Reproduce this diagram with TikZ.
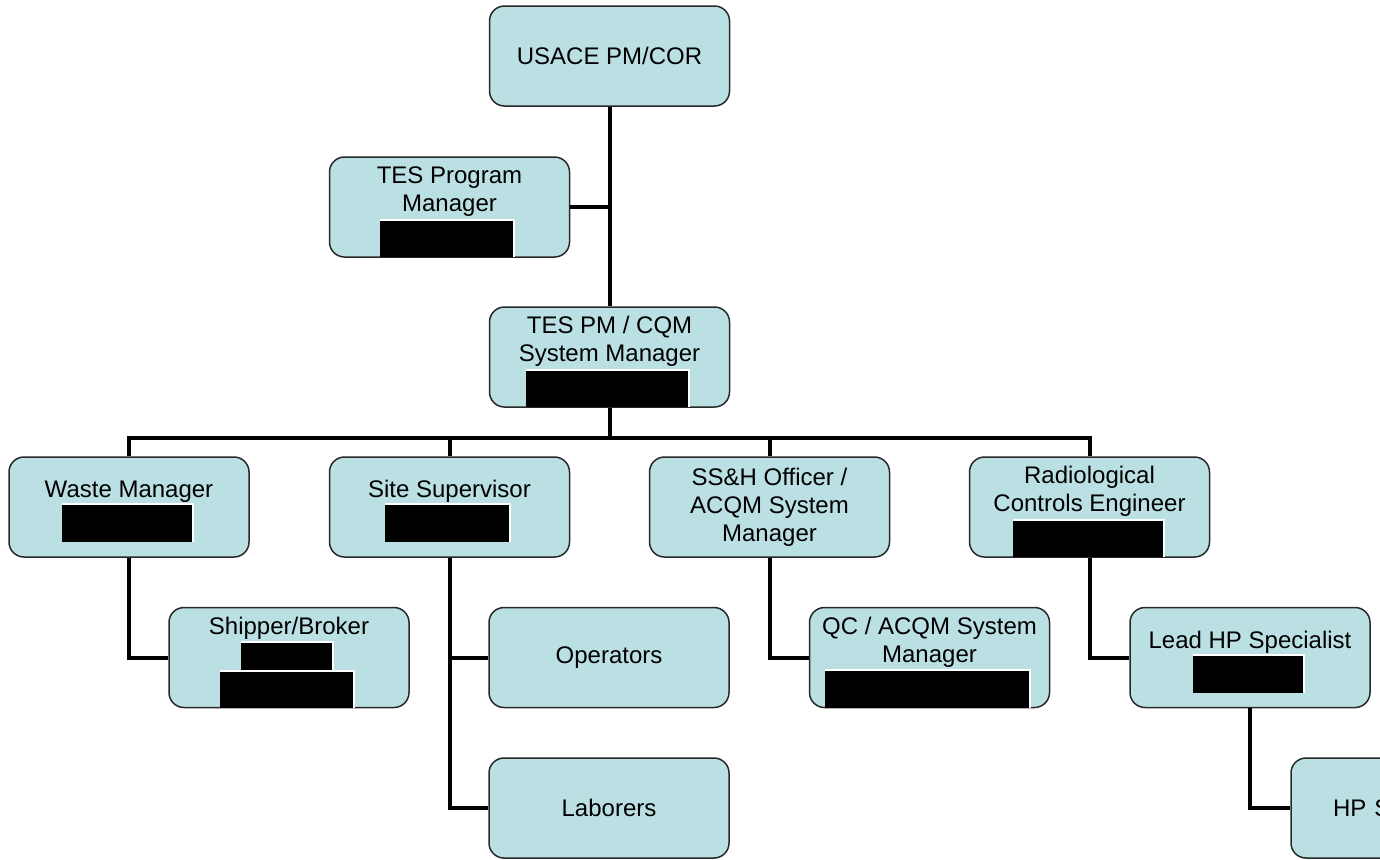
\documentclass[tikz,border=0pt]{standalone}
\usepackage{fontspec}
\setmainfont{Liberation Sans}
\usepackage{tikz}
\usetikzlibrary{positioning, calc}
\definecolor{BoxColor}{RGB}{187,224,227}
\definecolor{EdgeColor}{RGB}{40,40,40}
\newcommand{\blackout}[4]{%
  \fill[white] ({#1},{#2-2}) rectangle ({#3+2},{#4});
  \fill[black] (#1,#2) rectangle (#3,#4);}
\tikzset{
  unit/.style={rectangle, rounded corners=7.5pt, draw=EdgeColor, line width=0.75pt, fill=BoxColor,
    minimum width=120pt, minimum height=50pt, inner sep=0pt, align=center,
    font=\fontsize{12}{14}\selectfont},
  link/.style={line width=2pt, black, line join=miter}
}

\begin{document}
\begin{tikzpicture}[x=0.5pt, y=-0.5pt]
    \useasboundingbox (0,0) rectangle (1380,859);
    \clip (0,0) rectangle (1380,859);

    % Top of the chart
    \node[unit] (usace) at (609.5,56) {USACE PM/COR};
    \node[unit] (tesprog) at (449.5,207) {TES Program\\Manager\\\strut};
    \node[unit] (tespm) at (609.5,357) {TES PM / CQM\\System Manager\\\strut};

    % Second row
    \node[unit] (waste) at (129,507) {Waste Manager\\\strut};
    \node[unit] (site) at (449.5,507) {Site Supervisor\\\strut};
    \node[unit] (ssh) at (769.5,507) {SS\&H Officer /\\ACQM System\\Manager};
    \node[unit] (radio) at (1089.5,507) {Radiological\\Controls Engineer\\\strut};

    % Third row
    \node[unit] (shipper) at (289,657.5) {Shipper/Broker\\\strut\\\strut};
    \node[unit] (oper) at (609,657.5) {Operators};
    \node[unit] (qc) at (929.5,657.5) {QC / ACQM System\\Manager\\\strut};
    \node[unit] (lead) at (1250,657.5) {Lead HP Specialist\\\strut};

    % Bottom row
    \node[unit] (labor) at (609,808) {Laborers};
    \node[unit, text width=78pt, align=left] (hps) at (1411,808) {HP S};

    % Connectors
    \coordinate (bus) at (609.5,438);
    \draw[link] (usace) -- (tespm);
    \draw[link] (tesprog.east) -- (tesprog.east -| usace.south);
    \draw[link] (tespm) -- (bus);
    \draw[link] (waste.north) |- (bus) -| (radio.north);
    \draw[link] (site.north) -- (site.north |- bus);
    \draw[link] (ssh.north) -- (ssh.north |- bus);
    \draw[link] (waste.south) |- (shipper.west);
    \draw[link] (site.south) |- (labor.west);
    \draw[link] (site.south |- oper.west) -- (oper.west);
    \draw[link] (ssh.south) |- (qc.west);
    \draw[link] (radio.south) |- (lead.west);
    \draw[link] (lead.south) |- (hps.west);

    % Blacked out names
    \blackout{380}{221}{513}{257}
    \blackout{526}{371}{688}{407}
    \blackout{62}{505}{192}{542}
    \blackout{385}{505}{509}{542}
    \blackout{1013}{521}{1163}{557}
    \blackout{241}{643}{332}{672}
    \blackout{220}{672}{353}{708}
    \blackout{825}{671}{1029}{708}
    \blackout{1193}{656}{1303}{693}
\end{tikzpicture}
\end{document}
